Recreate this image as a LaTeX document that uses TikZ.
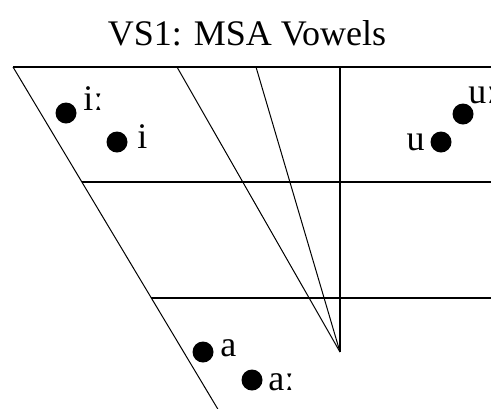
\documentclass[tikz,border=0pt]{standalone}
\usepackage{fontspec}
\setmainfont{Liberation Serif}
\usetikzlibrary{positioning}

\begin{document}
\begin{tikzpicture}[
  x=0.5pt, y=-0.5pt,
  font=\fontsize{18}{21}\selectfont,
  rule/.style={line width=0.8pt},
  slant/.style={line width=0.5pt},
  vdot/.style={circle, fill=black, inner sep=0pt, minimum size=10.5pt},
  vlabel/.style={anchor=base west, inner sep=0pt}
]
\useasboundingbox (0,0) rectangle (491,408);
\clip (0,0) rectangle (491,408);

\node[anchor=base, inner sep=0pt] (title) at (247,45) {VS1: MSA Vowels};

% frame of the vowel space
\coordinate (front top) at (13,67);
\coordinate (front mid) at (82,182);
\coordinate (front low) at (151,298);
\coordinate (front end) at (222,416);
\coordinate (back top) at (491,67);
\coordinate (back mid) at (491,182);
\coordinate (back low) at (491,298);
\coordinate (c top) at (340,67);
\coordinate (apex) at (340,352);
\coordinate (s1 top) at (177,67);
\coordinate (s2 top) at (256,67);

\draw[rule] (front top) -- (back top);
\draw[rule] (front mid) -- (back mid);
\draw[rule] (front low) -- (back low);
\draw[rule] (c top) -- (apex);
\draw[slant] (front top) -- (front end);
\draw[slant] (s1 top) -- (apex);
\draw[slant] (s2 top) -- (apex);

% vowels
\node[vdot] (ii) at (66,113) {};
\node[vlabel] (ii label) at (83,110) {iː};
\node[vdot] (i) at (117,142) {};
\node[vlabel] (i label) at (137,148) {i};
\node[vdot] (uu) at (463,114) {};
\node[vlabel] (uu label) at (468,103) {uː};
\node[vdot] (u) at (441,142) {};
\node[vlabel, anchor=base east] (u label) at (425,150) {u};
\node[vdot] (a) at (203,352) {};
\node[vlabel] (a label) at (220,356) {a};
\node[vdot] (aa) at (252,380) {};
\node[vlabel] (aa label) at (268,390) {aː};

\end{tikzpicture}
\end{document}
